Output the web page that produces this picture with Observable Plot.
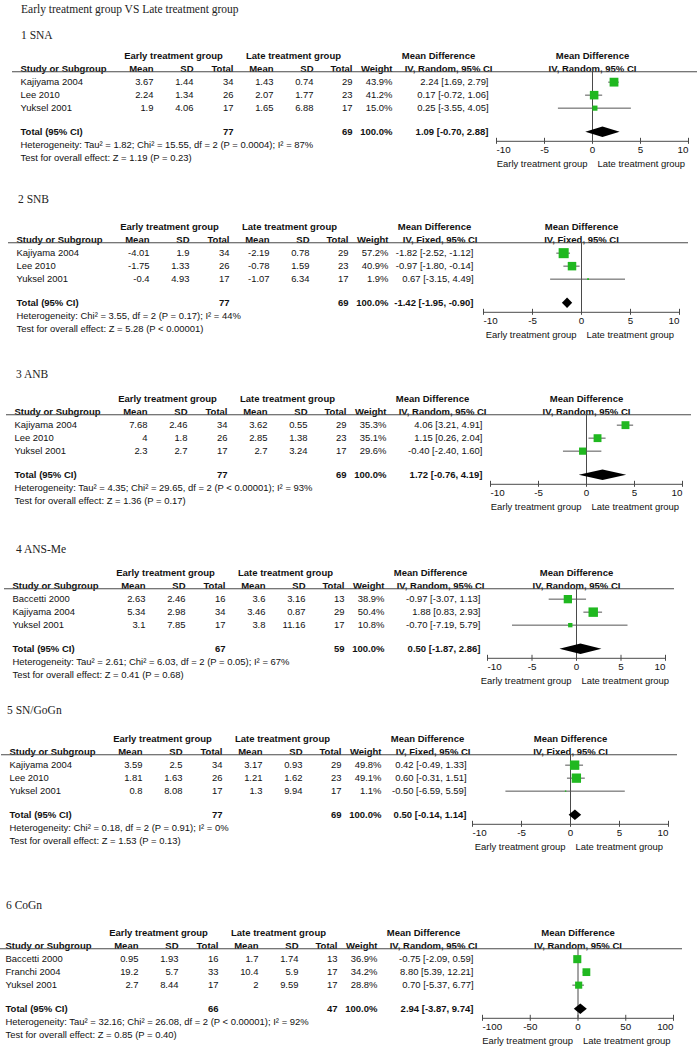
<!DOCTYPE html>
<html><head><meta charset="utf-8">
<script src="https://cdn.jsdelivr.net/npm/d3@7"></script>
<script src="https://cdn.jsdelivr.net/npm/@observablehq/plot@0.6"></script>
<style>
body{margin:0;background:#fff;}
#page{position:relative;width:700px;height:1049px;overflow:hidden;background:#fff;}
.ttl{position:absolute;font-family:"Liberation Serif",serif;font-size:11.5px;line-height:12px;color:#222;white-space:nowrap;}
.panel{position:absolute;left:0;}
</style></head><body><div id="page"></div>
<script>
// ---------- DATA ----------
const pageTitle = "Early treatment group VS Late treatment group";
const outcomes = ["1 SNA","2 SNB","3 ANB","4 ANS-Me","5 SN/GoGn","6 CoGn"];
const methods = ["Random","Fixed","Random","Random","Fixed","Random"];
const axisMax = [10,10,10,10,10,100];
const studies = [
 ["Kajiyama 2004","Lee 2010","Yuksel 2001"],
 ["Kajiyama 2004","Lee 2010","Yuksel 2001"],
 ["Kajiyama 2004","Lee 2010","Yuksel 2001"],
 ["Baccetti 2000","Kajiyama 2004","Yuksel 2001"],
 ["Kajiyama 2004","Lee 2010","Yuksel 2001"],
 ["Baccetti 2000","Franchi 2004","Yuksel 2001"]];
const earlyMean = [[3.67,2.24,1.9],[-4.01,-1.75,-0.4],[7.68,4,2.3],[2.63,5.34,3.1],[3.59,1.81,0.8],[0.95,19.2,2.7]];
const earlySD = [[1.44,1.34,4.06],[1.9,1.33,4.93],[2.46,1.8,2.7],[2.46,2.98,7.85],[2.5,1.63,8.08],[1.93,5.7,8.44]];
const earlyN = [[34,26,17],[34,26,17],[34,26,17],[16,34,17],[34,26,17],[16,33,17]];
const lateMean = [[1.43,2.07,1.65],[-2.19,-0.78,-1.07],[3.62,2.85,2.7],[3.6,3.46,3.8],[3.17,1.21,1.3],[1.7,10.4,2]];
const lateSD = [[0.74,1.77,6.88],[0.78,1.59,6.34],[0.55,1.38,3.24],[3.16,0.87,11.16],[0.93,1.62,9.94],[1.74,5.9,9.59]];
const lateN = [[29,23,17],[29,23,17],[29,23,17],[13,29,17],[29,23,17],[13,17,17]];
const weight = [[43.9,41.2,15.0],[57.2,40.9,1.9],[35.3,35.1,29.6],[38.9,50.4,10.8],[49.8,49.1,1.1],[36.9,34.2,28.8]];
const meanDiff = [[2.24,0.17,0.25],[-1.82,-0.97,0.67],[4.06,1.15,-0.40],[-0.97,1.88,-0.70],[0.42,0.60,-0.50],[-0.75,8.80,0.70]];
const ciLow = [[1.69,-0.72,-3.55],[-2.52,-1.80,-3.15],[3.21,0.26,-2.40],[-3.07,0.83,-7.19],[-0.49,-0.31,-6.59],[-2.09,5.39,-5.37]];
const ciHigh = [[2.79,1.06,4.05],[-1.12,-0.14,4.49],[4.91,2.04,1.60],[1.13,2.93,5.79],[1.33,1.51,5.59],[0.59,12.21,6.77]];
const totalEarlyN = [77,77,77,67,77,66];
const totalLateN = [69,69,69,59,69,47];
const totalMD = [1.09,-1.42,1.72,0.50,0.50,2.94];
const totalLow = [-0.70,-1.95,-0.76,-1.87,-0.14,-3.87];
const totalHigh = [2.88,-0.90,4.19,2.86,1.14,9.74];
const heterogeneity = [
 "Heterogeneity: Tau² = 1.82; Chi² = 15.55, df = 2 (P = 0.0004); I² = 87%",
 "Heterogeneity: Chi² = 3.55, df = 2 (P = 0.17); I² = 44%",
 "Heterogeneity: Tau² = 4.35; Chi² = 29.65, df = 2 (P < 0.00001); I² = 93%",
 "Heterogeneity: Tau² = 2.61; Chi² = 6.03, df = 2 (P = 0.05); I² = 67%",
 "Heterogeneity: Chi² = 0.18, df = 2 (P = 0.91); I² = 0%",
 "Heterogeneity: Tau² = 32.16; Chi² = 26.08, df = 2 (P < 0.00001); I² = 92%"];
const overallTest = [
 "Test for overall effect: Z = 1.19 (P = 0.23)",
 "Test for overall effect: Z = 5.28 (P < 0.00001)",
 "Test for overall effect: Z = 1.36 (P = 0.17)",
 "Test for overall effect: Z = 0.41 (P = 0.68)",
 "Test for overall effect: Z = 1.53 (P = 0.13)",
 "Test for overall effect: Z = 0.85 (P = 0.40)"];

// ---------- LAYOUT ----------
const panelTitleY = [35,199,374,549,710,905];
const panelTitleX = [21,18,16,16,7,6];
const headerY = [55,226,398,572,738,932];
const studyX = [20,16,14,12,9,5];
const axisRange = [[496,688],[483,679],[490,682],[487,665],[472,668],[482,673]];
const COL = {eMean:133, eSD:173, eN:213, lMean:253, lSD:293, lN:332, weight:372, ciRandom:468, ciFixed:457, mdHead:418, earlyHead:153, lateHead:273};
const ROW = {h1:0, h2:1, line:1.25, study:2.05, total:5.9, het:6.9, test:7.9, axis:6.6, group:8.35};
const ROW_PX = 13, TOP_PAD = 12, PANEL_H = 124;
const FS = 9.45, FSB = 9.5, INK = "#111", LINE = "#4a4a4a", GREEN = "#20b820";

const page = document.getElementById("page");
function addTitle(text, x, yc){
  const d = document.createElement("div");
  d.className = "ttl"; d.textContent = text;
  d.style.left = x + "px"; d.style.top = (yc - 6) + "px";
  page.appendChild(d);
}
addTitle(pageTitle, 21, 9);

const fmt2 = v => v.toFixed(2);
const ciText = (m, l, h) => `${fmt2(m)} [${fmt2(l)}, ${fmt2(h)}]`;

function panel(i){
  const D = axisMax[i], sx = studyX[i], [a, b] = axisRange[i];
  const random = methods[i] === "Random";
  const ciR = random ? COL.ciRandom : COL.ciFixed;
  const rows = studies[i].map((s, j) => ({
    study: s, eMean: String(earlyMean[i][j]), eSD: String(earlySD[i][j]), eN: String(earlyN[i][j]),
    lMean: String(lateMean[i][j]), lSD: String(lateSD[i][j]), lN: String(lateN[i][j]),
    w: weight[i][j], wText: weight[i][j].toFixed(1) + "%",
    md: meanDiff[i][j], lo: ciLow[i][j], hi: ciHigh[i][j],
    ci: ciText(meanDiff[i][j], ciLow[i][j], ciHigh[i][j]),
    row: ROW.study + j
  }));
  const total = [{eN: String(totalEarlyN[i]), lN: String(totalLateN[i]), w: "100.0%",
    ci: ciText(totalMD[i], totalLow[i], totalHigh[i]), row: ROW.total}];
  const dh = 0.4;
  const diamond = [
    {x: totalLow[i], y1: ROW.total, y2: ROW.total},
    {x: totalMD[i], y1: ROW.total - dh, y2: ROW.total + dh},
    {x: totalHigh[i], y1: ROW.total, y2: ROW.total}];
  const axisPx = TOP_PAD + ROW.axis * ROW_PX;

  const T = (data, o) => Plot.text(data, {frameAnchor: "left", fill: INK, fontSize: o.fontWeight === "bold" ? FSB : FS, ...o});
  const one = (txt, r, dx, anchor, bold) => T([txt], {y: () => r, dx: sx + dx, textAnchor: anchor, fontWeight: bold ? "bold" : "normal"});
  const col = (data, field, dx, bold) => T(data, {y: "row", text: field, dx: sx + dx, textAnchor: "end", fontWeight: bold ? "bold" : "normal"});
  const axisOpts = {anchor: "bottom", tickFormat: d => String(d), tickSize: 6, dy: -3, tickPadding: 2, stroke: LINE, fill: INK, fontSize: 9.8, label: null};

  const marks = [
    // header
    one("Early treatment group", ROW.h1, COL.earlyHead, "middle", true),
    one("Late treatment group", ROW.h1, COL.lateHead, "middle", true),
    one("Mean Difference", ROW.h1, COL.mdHead, "middle", true),
    one("Study or Subgroup", ROW.h2, 0, "start", true),
    one("Mean", ROW.h2, COL.eMean, "end", true),
    one("SD", ROW.h2, COL.eSD, "end", true),
    one("Total", ROW.h2, COL.eN, "end", true),
    one("Mean", ROW.h2, COL.lMean, "end", true),
    one("SD", ROW.h2, COL.lSD, "end", true),
    one("Total", ROW.h2, COL.lN, "end", true),
    one("Weight", ROW.h2, COL.weight, "end", true),
    one(`IV, ${methods[i]}, 95% CI`, ROW.h2, ciR + 4, "end", true),
    Plot.text(["Mean Difference"], {x: () => 0, y: () => ROW.h1, fontWeight: "bold", fill: INK, fontSize: FSB}),
    Plot.text([`IV, ${methods[i]}, 95% CI`], {x: () => 0, y: () => ROW.h2, fontWeight: "bold", fill: INK, fontSize: FSB}),
    Plot.ruleY([ROW.line], {y: d => d, insetLeft: sx - 8, insetRight: 700 - (b + 9), stroke: LINE, strokeWidth: 1.2}),
    // study rows
    T(rows, {y: "row", text: "study", dx: sx, textAnchor: "start"}),
    col(rows, "eMean", COL.eMean), col(rows, "eSD", COL.eSD), col(rows, "eN", COL.eN),
    col(rows, "lMean", COL.lMean), col(rows, "lSD", COL.lSD), col(rows, "lN", COL.lN),
    col(rows, "wText", COL.weight), col(rows, "ci", ciR),
    // total rows
    one("Total (95% CI)", ROW.total, 0, "start", true),
    col(total, "eN", COL.eN, true), col(total, "lN", COL.lN, true),
    col(total, "w", COL.weight, true), col(total, "ci", ciR, true),
    one(heterogeneity[i], ROW.het, 0, "start", false),
    one(overallTest[i], ROW.test, 0, "start", false),
    // forest
    Plot.ruleX([0], {x: d => d, y1: ROW.line, y2: ROW.axis, stroke: LINE}),
    Plot.ruleY(rows, {y: "row", x1: "lo", x2: "hi", stroke: "#555"}),
    Plot.dot(rows, {x: "md", y: "row", r: "w", symbol: "square", fill: GREEN, stroke: "none"}),
    Plot.areaY(diamond, {x: "x", y1: "y1", y2: "y2", fill: "#000", curve: "linear"}),
    Plot.ruleY([ROW.axis], {y: d => d, x1: -D, x2: D, stroke: LINE}),
    Plot.axisX({...axisOpts, ticks: [-D], textAnchor: "start"}),
    Plot.axisX({...axisOpts, ticks: [-D/2, 0, D/2]}),
    Plot.axisX({...axisOpts, ticks: [D], textAnchor: "end"}),
    Plot.text(["Early treatment group"], {x: () => 0, y: () => ROW.group, dx: -5, textAnchor: "end", fill: INK, fontSize: FS}),
    Plot.text(["Late treatment group"], {x: () => 0, y: () => ROW.group, dx: 5, textAnchor: "start", fill: INK, fontSize: FS})
  ];

  const svg = Plot.plot({
    width: 700, height: PANEL_H,
    marginLeft: 0, marginRight: 0, marginTop: 0, marginBottom: PANEL_H - axisPx,
    x: {domain: [-D, D], range: [a, b]},
    y: {type: "linear", domain: [0, 1], range: [TOP_PAD, TOP_PAD + ROW_PX], axis: null},
    r: {domain: [0, 100], range: [0, 7.5]},
    style: {fontFamily: "'Liberation Sans', Arial, sans-serif", fontSize: FS + "px", color: INK, background: "transparent", overflow: "visible"},
    marks
  });
  svg.classList.add("panel");
  svg.style.top = (headerY[i] - TOP_PAD) + "px";
  page.appendChild(svg);
  addTitle(outcomes[i], panelTitleX[i], panelTitleY[i]);
}
outcomes.forEach((_, i) => panel(i));
</script></body></html>
